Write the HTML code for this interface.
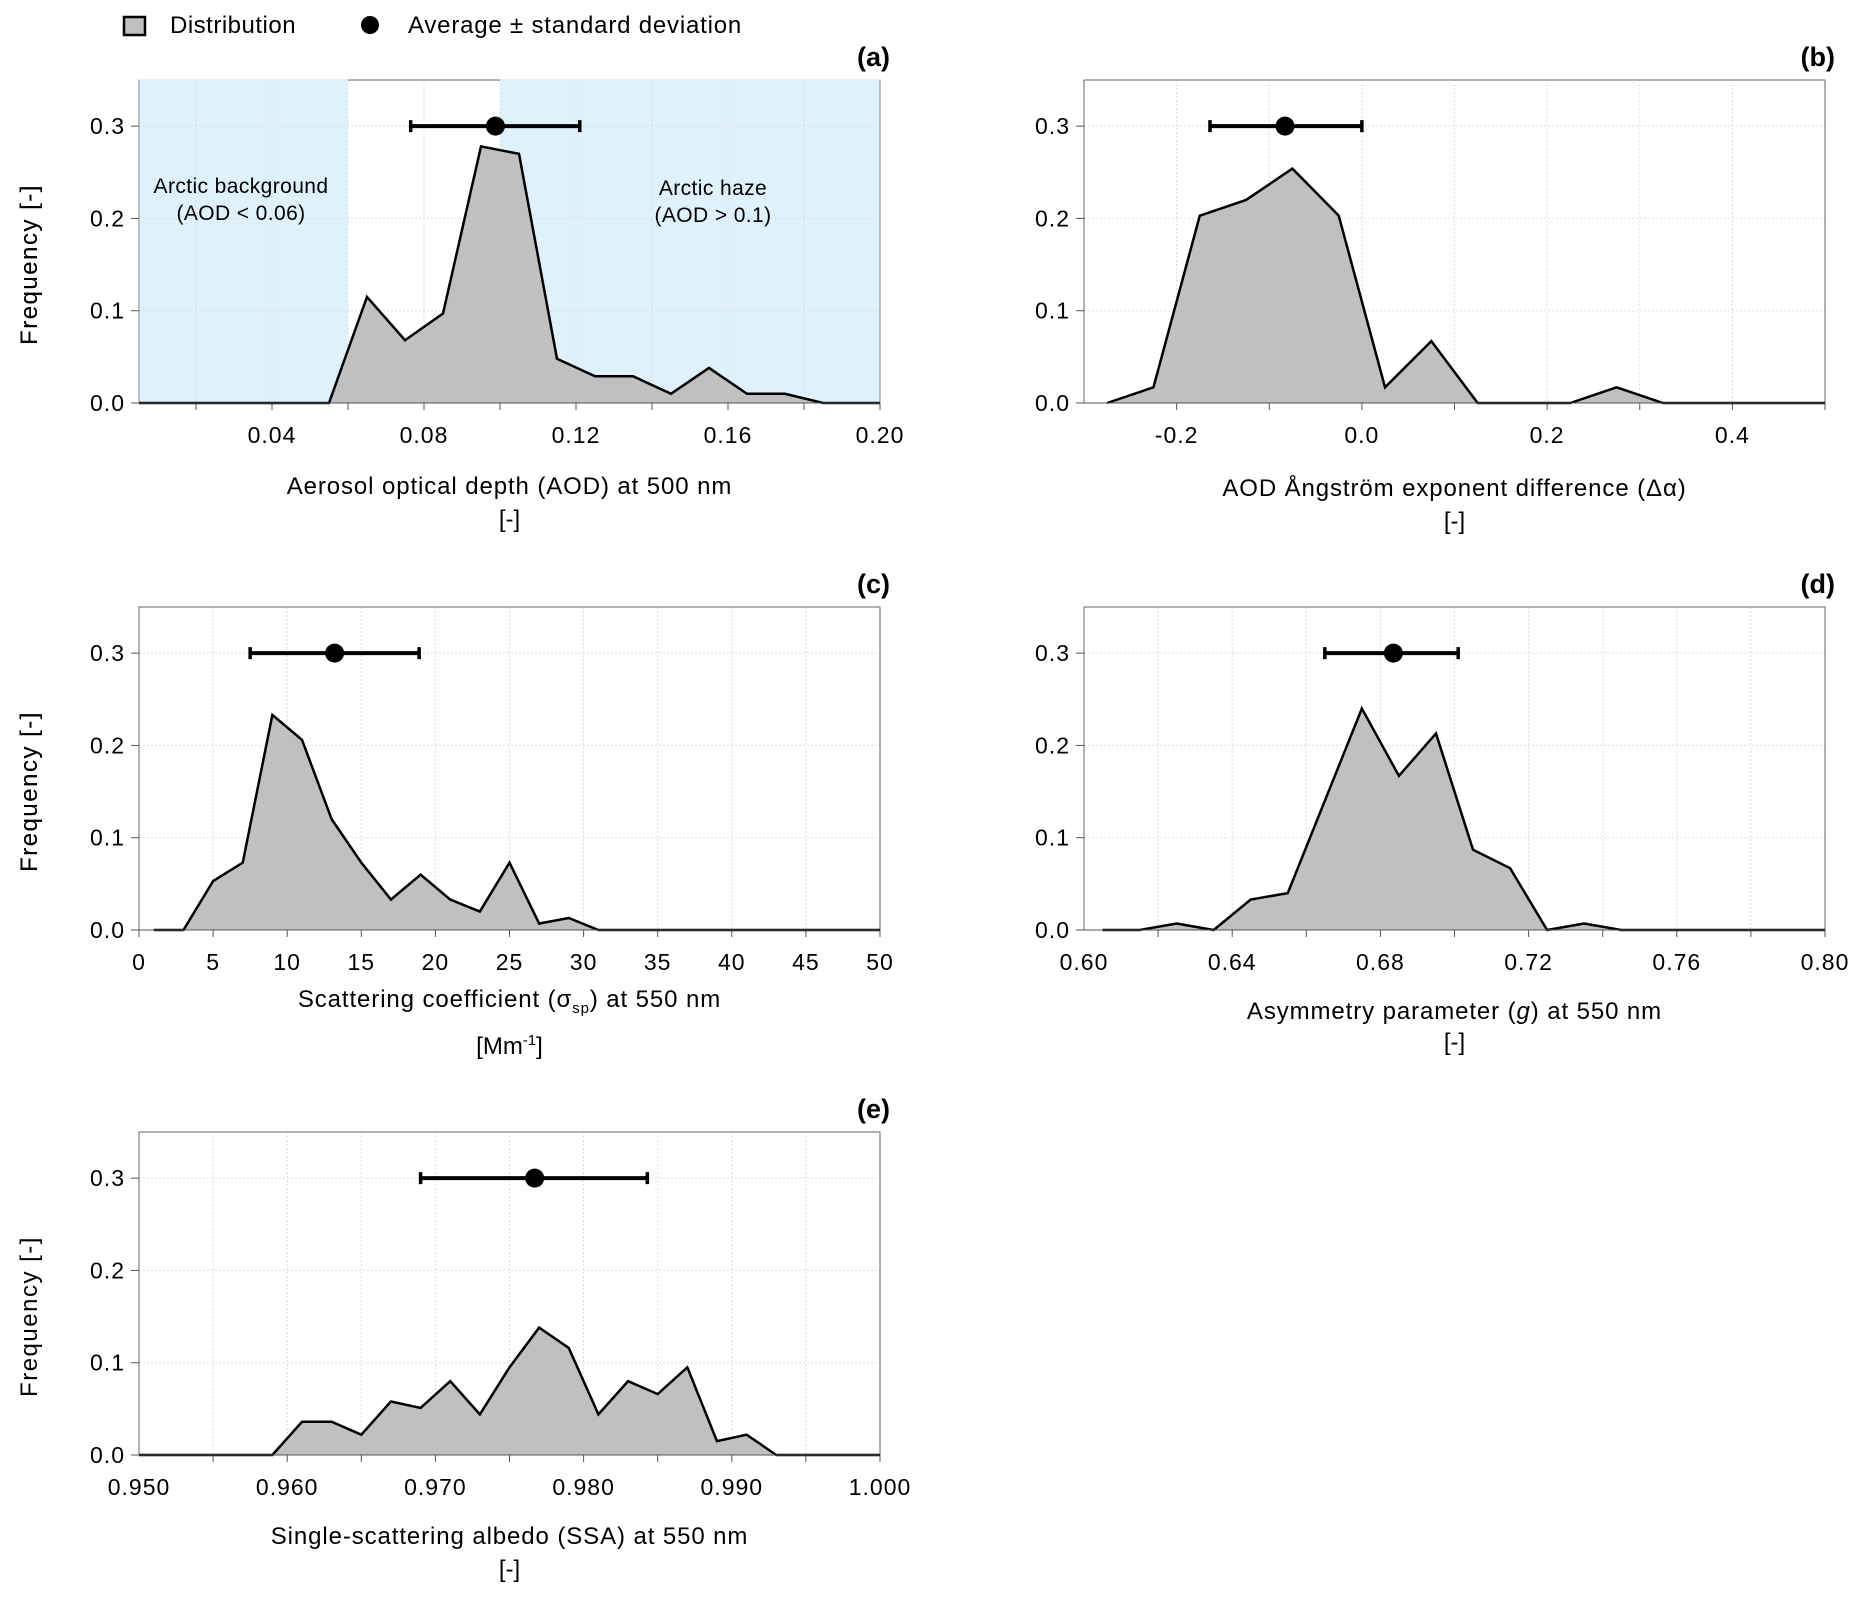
<!DOCTYPE html>
<html><head><meta charset="utf-8">
<style>
body{margin:0;background:#fff;}
svg{display:block;font-family:"Liberation Sans",sans-serif;}
</style></head>
<body>
<svg id="fig" width="1865" height="1610" viewBox="0 0 1865 1610" xmlns="http://www.w3.org/2000/svg">
  <g>
    <rect x="124" y="17" width="21" height="18" fill="#c0c0c0" stroke="#000" stroke-width="2.5"/>
    <text x="170" y="33" font-size="24" letter-spacing="0.5">Distribution</text>
    <circle cx="370" cy="25" r="9" fill="#000"/>
    <text x="408" y="33" font-size="24" letter-spacing="0.8">Average ± standard deviation</text>
  </g>
</svg>
<script>
// Panel (a) AOD
const aodX = [0.005,0.015,0.025,0.035,0.045,0.055,0.065,0.075,0.085,0.095,0.105,0.115,0.125,0.135,0.145,0.155,0.165,0.175,0.185,0.195,0.2];
const aodFreq = [0,0,0,0,0,0,0.115,0.068,0.097,0.278,0.270,0.048,0.029,0.029,0.010,0.038,0.010,0.010,0,0,0];
const aodStats = [0.0988,0.0765,0.1210];
// Panel (b) Angstrom difference
const dAlphaX = [-0.275,-0.225,-0.175,-0.125,-0.075,-0.025,0.025,0.075,0.125,0.175,0.225,0.275,0.325,0.375,0.425,0.475,0.5];
const dAlphaFreq = [0,0.017,0.203,0.220,0.254,0.203,0.017,0.067,0,0,0,0.017,0,0,0,0,0];
const dAlphaStats = [-0.083,-0.164,0.0];
// Panel (c) scattering
const scatX = [1,3,5,7,9,11,13,15,17,19,21,23,25,27,29,31,33,35,37,39,41,43,45,47,49,50];
const scatFreq = [0,0,0.053,0.073,0.233,0.206,0.120,0.073,0.033,0.060,0.033,0.020,0.073,0.007,0.013,0,0,0,0,0,0,0,0,0,0,0];
const scatStats = [13.2,7.5,18.9];
// Panel (d) asymmetry
const gX = [0.605,0.615,0.625,0.635,0.645,0.655,0.665,0.675,0.685,0.695,0.705,0.715,0.725,0.735,0.745,0.755,0.765,0.775,0.785,0.795,0.8];
const gFreq = [0,0,0.007,0,0.033,0.040,0.140,0.240,0.167,0.213,0.087,0.067,0,0.007,0,0,0,0,0,0,0];
const gStats = [0.6835,0.665,0.701];
// Panel (e) SSA
const ssaX = [0.950,0.951,0.953,0.955,0.957,0.959,0.961,0.963,0.965,0.967,0.969,0.971,0.973,0.975,0.977,0.979,0.981,0.983,0.985,0.987,0.989,0.991,0.993,0.995,0.997,0.999,1.0];
const ssaFreq = [0,0,0,0,0,0,0.036,0.036,0.022,0.058,0.051,0.080,0.044,0.095,0.138,0.116,0.044,0.080,0.066,0.095,0.015,0.022,0,0,0,0,0];
const ssaStats = [0.9767,0.9690,0.9843];
const yTicks = ["0.0","0.1","0.2","0.3"];

const NS="http://www.w3.org/2000/svg";
const fig=document.getElementById('fig');
function mk(tag,attrs,parent){const e=document.createElementNS(NS,tag);for(const k in attrs)e.setAttribute(k,attrs[k]);(parent||fig).appendChild(e);return e;}

function panel(cfg){
  const {px,py,w,h,xmin,xmax,xs,ys,stats,labels,minor,label,title,unit,tOff,uOff,fmtDec,name}=cfg;
  const g=mk('g',{});
  
  
  const X=v=>px+(v-xmin)/(xmax-xmin)*w;
  const Y=v=>py+h-v/0.35*h;
  if(cfg.shade){cfg.shade.forEach((s,i)=>{const r=mk('rect',{x:X(s[0]),y:py-1,width:X(s[1])-X(s[0]),height:h+1,fill:'#def1fc'},g);
    
    });}
  for(let v=minor[0];v<=xmax+1e-9;v+=minor[1]){const x=X(v);
    if(x>px+1&&x<px+w-1){const l=mk('line',{x1:x,x2:x,y1:py,y2:py+h,stroke:'#ddd','stroke-dasharray':'2,2'},g);
      
      }
    mk('line',{x1:x,x2:x,y1:py+h,y2:py+h+7,stroke:'#555'},g);}
  yTicks.forEach(t=>{const y=Y(parseFloat(t));
    if(+t>0){const l=mk('line',{x1:px,x2:px+w,y1:y,y2:y,stroke:'#ddd','stroke-dasharray':'2,2'},g);
      
      }
    mk('line',{x1:px-8,x2:px,y1:y,y2:y,stroke:'#555'},g);
    const tx=mk('text',{x:px-14,y:y+8,'font-size':23,'letter-spacing':1,'text-anchor':'end'},g);tx.textContent=t;
    
    });
  mk('rect',{x:px,y:py,width:w,height:h,fill:'none',stroke:'#666','stroke-width':1},g);
  if(cfg.shade){cfg.shade.forEach(s=>mk('rect',{x:X(s[0]),y:py-1,width:X(s[1])-X(s[0]),height:1.5,fill:'#def1fc'},g));
    mk('line',{x1:px,x2:px,y1:py,y2:py+h,stroke:'#888'},g);mk('line',{x1:px+w,x2:px+w,y1:py,y2:py+h,stroke:'#888'},g);}
  let d='M'+X(xs[0])+','+Y(0);
  xs.forEach((x,i)=>{d+=' L'+X(x)+','+Y(ys[i]);});
  d+=' L'+X(xs[xs.length-1])+','+Y(0)+' Z';
  const a=mk('path',{d:d,fill:'#c0c0c0',stroke:'none'},g);
  
  
  let d2='';xs.forEach((x,i)=>{d2+=(i?' L':'M')+X(x)+','+Y(ys[i]);});
  const ln=mk('path',{d:d2,fill:'none',stroke:'#000','stroke-width':2.5,'stroke-linejoin':'miter'},g);
  
  
  mk('line',{x1:px,x2:px+w,y1:py+h,y2:py+h,stroke:'#555'},g);
  const ey=Y(0.3);
  const eb=mk('g',{},g);
  
  
  mk('line',{x1:X(stats[1]),x2:X(stats[2]),y1:ey,y2:ey,stroke:'#000','stroke-width':4},eb);
  mk('line',{x1:X(stats[1]),x2:X(stats[1]),y1:ey-6,y2:ey+6,stroke:'#000','stroke-width':3.5},eb);
  mk('line',{x1:X(stats[2]),x2:X(stats[2]),y1:ey-6,y2:ey+6,stroke:'#000','stroke-width':3.5},eb);
  mk('circle',{cx:X(stats[0]),cy:ey,r:9.5,fill:'#000'},eb);
  labels.forEach(v=>{const t=mk('text',{x:X(v),y:py+h+40,'font-size':23,'letter-spacing':1,'text-anchor':'middle'},g);
    t.textContent=v<0?'-'+Math.abs(v).toFixed(fmtDec):v.toFixed(fmtDec);
    
    });
  const tt=mk('text',{x:px+w/2,y:py+h+tOff,'font-size':24,'letter-spacing':0.9,'text-anchor':'middle'},g);tt.innerHTML=title;
  
  
  const ut=mk('text',{x:px+w/2,y:py+h+uOff,'font-size':24,'text-anchor':'middle'},g);ut.innerHTML=unit;
  
  
  const yt=mk('text',{x:0,y:0,'font-size':24,'letter-spacing':1.5,'text-anchor':'middle','transform':`translate(37,${py+h/2+23}) rotate(-90)`,'xml:space':'preserve'},g);
  yt.textContent='Frequency   [-]';
  
  
  const pl=mk('text',{x:px+w+10,y:py-14,'font-size':27,'font-weight':'bold','text-anchor':'end'},g);pl.textContent=label;
  
  
  return X;
}
const LX=139,RX=1084,W=741,H=323;
panel({name:'panel-a-aod',px:LX,py:80,w:W,h:H,xmin:0.005,xmax:0.2,xs:aodX,ys:aodFreq,stats:aodStats,labels:[0.04,0.08,0.12,0.16,0.20],minor:[0.02,0.02],fmtDec:2,label:'(a)',
  title:'Aerosol optical depth (AOD) at 500 nm',unit:'[-]',tOff:91,uOff:124,shade:[[0.005,0.06],[0.1,0.2]]});
panel({name:'panel-b-angstrom',px:RX,py:80,w:W,h:H,xmin:-0.3,xmax:0.5,xs:dAlphaX,ys:dAlphaFreq,stats:dAlphaStats,labels:[-0.2,0,0.2,0.4],minor:[-0.2,0.1],fmtDec:1,label:'(b)',
  title:'AOD Ångström exponent difference (Δα)',unit:'[-]',tOff:93,uOff:126});
panel({name:'panel-c-scattering',px:LX,py:607,w:W,h:H,xmin:0,xmax:50,xs:scatX,ys:scatFreq,stats:scatStats,labels:[0,5,10,15,20,25,30,35,40,45,50],minor:[0,5],fmtDec:0,label:'(c)',
  title:'Scattering coefficient (σ<tspan font-size="15" dy="6">sp</tspan><tspan dy="-6">) at 550 nm</tspan>',unit:'[Mm<tspan font-size="15" dy="-9">-1</tspan><tspan dy="9">]</tspan>',tOff:77,uOff:124});
panel({name:'panel-d-asymmetry',px:RX,py:607,w:W,h:H,xmin:0.6,xmax:0.8,xs:gX,ys:gFreq,stats:gStats,labels:[0.60,0.64,0.68,0.72,0.76,0.80],minor:[0.62,0.02],fmtDec:2,label:'(d)',
  title:'Asymmetry parameter (<tspan font-style="italic">g</tspan>) at 550 nm',unit:'[-]',tOff:89,uOff:120});
panel({name:'panel-e-ssa',px:LX,py:1132,w:W,h:H,xmin:0.95,xmax:1.0,xs:ssaX,ys:ssaFreq,stats:ssaStats,labels:[0.95,0.96,0.97,0.98,0.99,1.0],minor:[0.955,0.005],fmtDec:3,label:'(e)',
  title:'Single-scattering albedo (SSA) at 550 nm',unit:'[-]',tOff:89,uOff:122});
[['Arctic background',241,193],['(AOD < 0.06)',241,220],['Arctic haze',713,195],['(AOD > 0.1)',713,222]].forEach((t,i)=>{
  const e=mk('text',{x:t[1],y:t[2],'font-size':21,'letter-spacing':0.4,'text-anchor':'middle'});e.textContent=t[0];
  
  
});
</script>
</body></html>
